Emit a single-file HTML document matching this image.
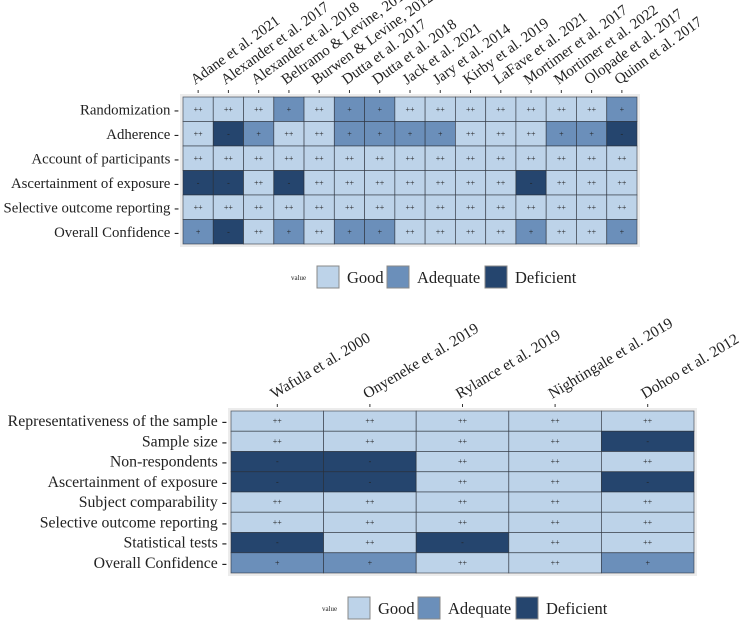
<!DOCTYPE html>
<html><head><meta charset="utf-8"><style>
body{margin:0;background:#fff;}
svg text{font-family:"Liberation Serif",serif;}
</style></head><body>
<svg id="s" width="749" height="622"></svg>
<script>
const topCols=["Adane et al. 2021","Alexander et al. 2017","Alexander et al. 2018","Beltramo & Levine, 2013","Burwen & Levine, 2012","Dutta et al. 2017","Dutta et al. 2018","Jack et al. 2021","Jary et al. 2014","Kirby et al. 2019","LaFave et al. 2021","Mortimer et al. 2017","Mortimer et al. 2022","Olopade et al. 2017","Quinn et al. 2017"];
const topRows=["Randomization","Adherence","Account of participants","Ascertainment of exposure","Selective outcome reporting","Overall Confidence"];
const topVals=[
"G G G A G A A G G G G G G G A",
"G D A G G A A A A G G G A A D",
"G G G G G G G G G G G G G G G",
"D D G D G G G G G G G D G G G",
"G G G G G G G G G G G G G G G",
"A D G A G A A G G G G A G G A"];
const botCols=["Wafula et al. 2000","Onyeneke et al. 2019","Rylance et al. 2019","Nightingale et al. 2019","Dohoo et al. 2012"];
const botRows=["Representativeness of the sample","Sample size","Non-respondents","Ascertainment of exposure","Subject comparability","Selective outcome reporting","Statistical tests","Overall Confidence"];
const botVals=[
"G G G G G","G G G G D","D D G G G","D D G G D","G G G G G","G G G G G","D G D G G","A A G G A"];
const fill={G:"#bdd3e9",A:"#6b8fba",D:"#25456e"};
const sym={G:"++",A:"+",D:"-"};
const names={G:"Good",A:"Adequate",D:"Deficient"};
const svg=document.getElementById('s');
const NS="http://www.w3.org/2000/svg";
function mk(t,a,p){const e=document.createElementNS(NS,t);for(const k in a)e.setAttribute(k,a[k]);(p||svg).appendChild(e);return e;}
function chart(id,cols,rows,vals,x0,x1,y0,y1,angle,fs,rfs,legX,legY){
  const g=mk('g',{});
  
  
  const cw=(x1-x0)/cols.length,rh=(y1-y0)/rows.length;
  const bg=mk('rect',{x:x0-3,y:y0-3,width:x1-x0+6,height:y1-y0+6,fill:"#ececec"},g);
  
  
  rows.forEach((r,i)=>{
    const v=vals[i].split(' ');
    v.forEach((c,j)=>{
      const rc=mk('rect',{x:x0+j*cw,y:y0+i*rh,width:cw,height:rh,fill:fill[c],stroke:"#2a2f38","stroke-width":0.8,"stroke-opacity":0.7},g);
      
      
      const t=mk('text',{x:x0+(j+.5)*cw,y:y0+(i+.5)*rh+2.5,"text-anchor":"middle","font-size":8,fill:"#222"},g);
      t.textContent=sym[c];
    });
    const l=mk('text',{x:x0-4,y:y0+(i+.5)*rh+5,"text-anchor":"end","font-size":rfs,fill:"#222"},g);
    l.textContent=r+" -";
    
    
  });
  cols.forEach((c,j)=>{
    const cx=x0+(j+.5)*cw;
    mk('line',{x1:cx,x2:cx,y1:y0-7,y2:y0-4,stroke:"#333","stroke-width":1},g);
    const t=mk('text',{x:cx-3,y:y0-12,"font-size":fs,fill:"#222",transform:`rotate(${angle} ${cx-3} ${y0-12})`},g);
    t.textContent=c;
    
    
  });
  const lg=mk('g',{},g);
  
  
  const vt=mk('text',{x:legX,y:legY+14,"font-size":7,fill:"#222"},lg);vt.textContent="value";
  const offs=[0,70,168];
  ["G","A","D"].forEach((k,i)=>{
    const bx=legX+26+offs[i];
    const b=mk('rect',{x:bx,y:legY,width:22,height:22,fill:fill[k],stroke:"#888","stroke-width":1},lg);
    
    
    const t=mk('text',{x:bx+30,y:legY+17,"font-size":16.5,fill:"#222"},lg);
    t.textContent=names[k];
  });
}
chart('top-heatmap',topCols,topRows,topVals,183,637,97,244,-36,15,14.8,291,266);
chart('bottom-heatmap',botCols,botRows,botVals,231,694,411,573,-31,15.5,15.8,322,597);
</script>
</body></html>
